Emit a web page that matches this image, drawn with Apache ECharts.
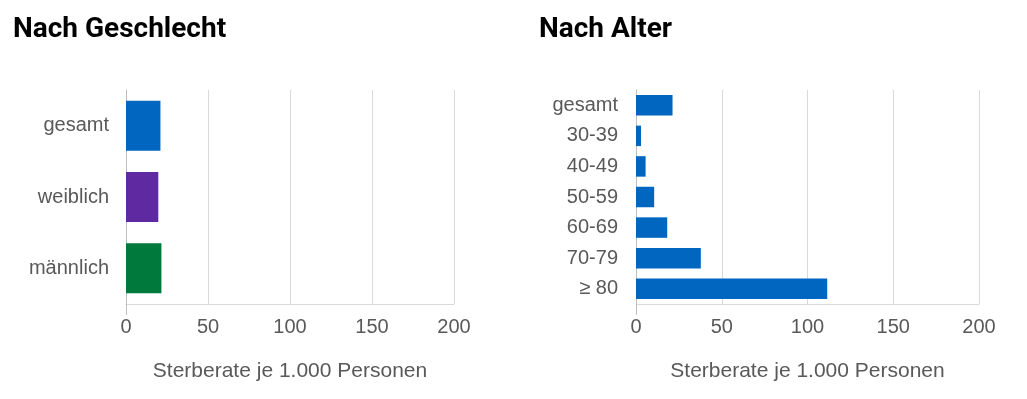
<!DOCTYPE html>
<html>
<head>
<meta charset="utf-8">
<script src="https://cdn.jsdelivr.net/npm/echarts@6/dist/echarts.min.js"></script>
<style>
  html, body { margin: 0; padding: 0; background: #fff; }
  #chart { width: 1027px; height: 399px; }
</style>
</head>
<body>
<div id="chart"></div>
<script>
// Nach Geschlecht
const sexCategories = ['gesamt', 'weiblich', 'männlich'];
const sexValues = [21, 19.7, 21.6];
const sexColors = ['#0066c0', '#5f2aa1', '#007a3c'];

// Nach Alter
const ageCategories = ['gesamt', '30-39', '40-49', '50-59', '60-69', '70-79', '≥ 80'];
const ageValues = [21.3, 2.9, 5.6, 10.6, 18.2, 37.8, 111.5];

const xTicks = [0, 50, 100, 150, 200];
const axisName = 'Sterberate je 1.000 Personen';

const chart = echarts.init(document.getElementById('chart'));

const labelColor = '#595959';
const font = '"Liberation Sans", Arial, sans-serif';
const titleFont = 'Roboto, sans-serif';

function valueAxis(gridIndex) {
    return {
        type: 'value',
        gridIndex: gridIndex,
        position: 'bottom',
        min: xTicks[0],
        max: xTicks[xTicks.length - 1],
        interval: 50,
        name: axisName,
        nameLocation: 'middle',
        nameGap: 57,
        nameTextStyle: { color: labelColor, fontSize: 21, fontFamily: font },
        axisLine: { show: true, lineStyle: { color: '#d9d9d9' } },
        axisTick: { show: false },
        axisLabel: { color: labelColor, fontSize: 20, fontFamily: font, margin: 13 },
        splitLine: { show: true, lineStyle: { color: '#d9d9d9' } }
    };
}

// helper axis: draws only the zero tick, continuing the category axis line downwards
function zeroTickAxis(gridIndex) {
    return {
        type: 'value',
        gridIndex: gridIndex,
        position: 'bottom',
        min: xTicks[0],
        max: xTicks[xTicks.length - 1],
        axisLine: { show: false },
        axisTick: { show: true, customValues: [0], length: 11, lineStyle: { color: '#bfbfbf' } },
        axisLabel: { show: false },
        splitLine: { show: false }
    };
}

function catAxis(gridIndex, data, margin) {
    return {
        type: 'category',
        gridIndex: gridIndex,
        data: data,
        inverse: true,
        axisLine: { show: true, lineStyle: { color: '#bfbfbf' } },
        axisTick: { show: false },
        axisLabel: { color: labelColor, fontSize: 20, fontFamily: font, margin: margin }
    };
}

chart.setOption({
    animation: false,
    title: [
        {
            text: 'Nach Geschlecht',
            left: 8, top: 11,
            textStyle: { fontSize: 28, fontWeight: 'bold', color: '#000', fontFamily: titleFont }
        },
        {
            text: 'Nach Alter',
            left: 534, top: 11,
            textStyle: { fontSize: 28, fontWeight: 'bold', color: '#000', fontFamily: titleFont }
        }
    ],
    grid: [
        { left: 126, right: 573, top: 90, bottom: 95 },
        { left: 636, right: 48, top: 90, bottom: 95 }
    ],
    xAxis: [valueAxis(0), valueAxis(1), zeroTickAxis(0), zeroTickAxis(1)],
    yAxis: [catAxis(0, sexCategories, 17), catAxis(1, ageCategories, 18)],
    series: [
        {
            type: 'bar',
            xAxisIndex: 0,
            yAxisIndex: 0,
            barWidth: '70%',
            data: sexValues.map((v, i) => ({ value: v, itemStyle: { color: sexColors[i] } }))
        },
        {
            type: 'bar',
            xAxisIndex: 1,
            yAxisIndex: 1,
            barWidth: '67%',
            itemStyle: { color: '#0066c0' },
            data: ageValues
        }
    ]
});
</script>
</body>
</html>
